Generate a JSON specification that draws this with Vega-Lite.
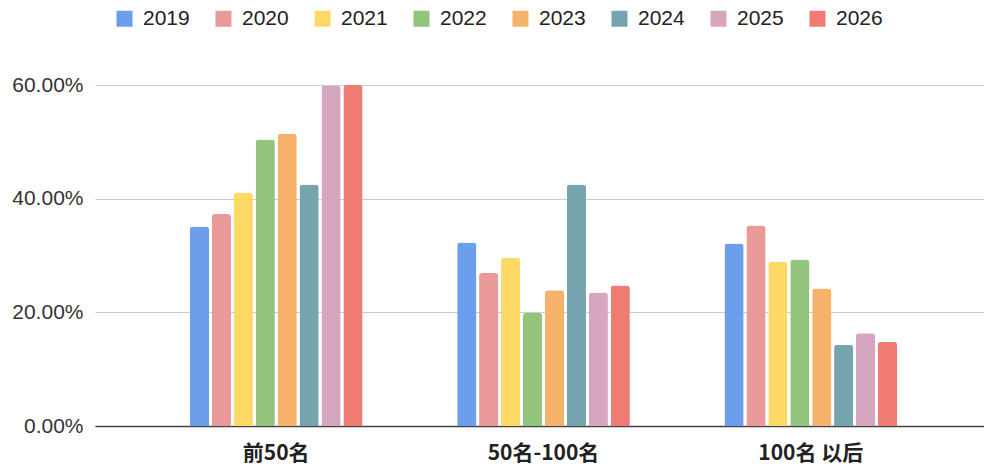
{
  "$schema": "https://vega.github.io/schema/vega-lite/v6.json",
  "width": 889,
  "height": 341,
  "autosize": {"type": "none"},
  "padding": {"left": 95, "top": 85, "right": 0, "bottom": 44},
  "background": "white",
  "config": {
    "font": "Liberation Sans",
    "view": {"stroke": null},
    "axis": {"labelFont": "Liberation Sans", "labelColor": "#333333"}
  },
  "data": {
    "values": [
      {"group": "前50名", "year": "2019", "value": 0.351},
      {"group": "前50名", "year": "2020", "value": 0.373},
      {"group": "前50名", "year": "2021", "value": 0.410},
      {"group": "前50名", "year": "2022", "value": 0.504},
      {"group": "前50名", "year": "2023", "value": 0.514},
      {"group": "前50名", "year": "2024", "value": 0.425},
      {"group": "前50名", "year": "2025", "value": 0.599},
      {"group": "前50名", "year": "2026", "value": 0.600},
      {"group": "50名-100名", "year": "2019", "value": 0.323},
      {"group": "50名-100名", "year": "2020", "value": 0.269},
      {"group": "50名-100名", "year": "2021", "value": 0.296},
      {"group": "50名-100名", "year": "2022", "value": 0.199},
      {"group": "50名-100名", "year": "2023", "value": 0.239},
      {"group": "50名-100名", "year": "2024", "value": 0.425},
      {"group": "50名-100名", "year": "2025", "value": 0.235},
      {"group": "50名-100名", "year": "2026", "value": 0.247},
      {"group": "100名 以后", "year": "2019", "value": 0.321},
      {"group": "100名 以后", "year": "2020", "value": 0.353},
      {"group": "100名 以后", "year": "2021", "value": 0.289},
      {"group": "100名 以后", "year": "2022", "value": 0.293},
      {"group": "100名 以后", "year": "2023", "value": 0.242},
      {"group": "100名 以后", "year": "2024", "value": 0.143},
      {"group": "100名 以后", "year": "2025", "value": 0.163},
      {"group": "100名 以后", "year": "2026", "value": 0.148}
    ]
  },
  "mark": {"type": "bar", "cornerRadiusTopLeft": 3, "cornerRadiusTopRight": 3},
  "encoding": {
    "x": {
      "field": "group",
      "type": "nominal",
      "sort": ["前50名", "50名-100名", "100名 以后"],
      "scale": {"paddingInner": 0.354, "paddingOuter": 0.34, "align": 0.522},
      "axis": {
        "title": null,
        "labelAngle": 0,
        "ticks": false,
        "domain": true,
        "domainColor": "#444444",
        "domainWidth": 1.5,
        "labelFontSize": 21,
        "labelFontWeight": "bold",
        "labelColor": "#222222",
        "labelPadding": 16,
        "labelFont": "Noto Sans CJK SC"
      }
    },
    "xOffset": {
      "field": "year",
      "type": "nominal",
      "scale": {"paddingInner": 0.125, "paddingOuter": 0}
    },
    "y": {
      "field": "value",
      "type": "quantitative",
      "scale": {"domain": [0, 0.6], "nice": false},
      "axis": {
        "title": null,
        "values": [0, 0.2, 0.4, 0.6],
        "format": ".2%",
        "domain": false,
        "ticks": false,
        "gridColor": "#cccccc",
        "gridWidth": 1,
        "labelFontSize": 21,
        "labelPadding": 12
      }
    },
    "color": {
      "field": "year",
      "type": "nominal",
      "scale": {
        "domain": ["2019", "2020", "2021", "2022", "2023", "2024", "2025", "2026"],
        "range": ["#6d9eeb", "#ea9999", "#ffd966", "#93c47d", "#f6b26b", "#76a5af", "#d5a6bd", "#f07b72"]
      },
      "legend": {
        "title": null,
        "orient": "none",
        "direction": "horizontal",
        "legendX": 19,
        "legendY": -77,
        "symbolType": "square",
        "symbolSize": 256,
        "symbolStrokeWidth": 0,
        "symbolOpacity": 1,
        "labelFontSize": 21,
        "labelColor": "#222222",
        "labelOffset": 8,
        "columnPadding": 23,
        "labelFont": "Liberation Sans"
      }
    }
  }
}
